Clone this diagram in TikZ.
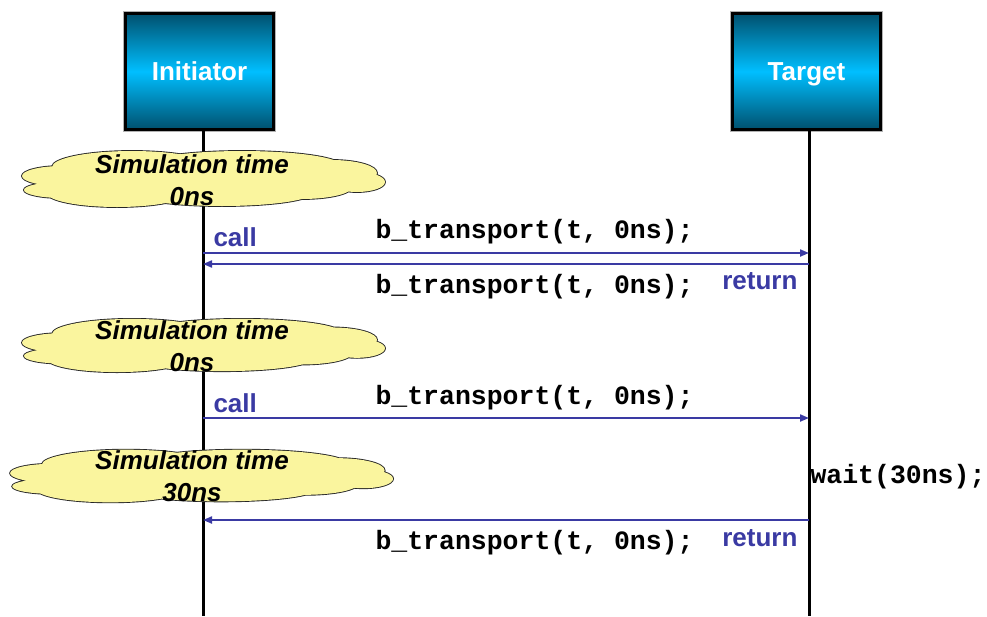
\documentclass[tikz,border=0pt]{standalone}
\usepackage{fontspec}
\setmainfont{Liberation Sans}
\setmonofont{Liberation Mono}
\usetikzlibrary{arrows.meta, positioning, calc}
\definecolor{ink}{HTML}{000000}
\definecolor{msg}{HTML}{3A3AA3}
\definecolor{boxdk}{HTML}{00506E}
\definecolor{boxlt}{HTML}{00BFFF}
\definecolor{cloudfill}{HTML}{FAF59E}
% lobes of the simulation-time cloud, around its centre
\newcommand{\cloudlobes}{
  (-140,-3) ellipse [x radius=40, y radius=10]
  (-140,11) ellipse [x radius=38, y radius=8]
  (-70,-12) ellipse [x radius=80, y radius=16]
  (40,-13) ellipse [x radius=100, y radius=15]
  (130,-6) ellipse [x radius=45, y radius=13]
  (155,3) ellipse [x radius=28, y radius=10]
  (100,8) ellipse [x radius=50, y radius=12]
  (20,14) ellipse [x radius=90, y radius=13]
  (-85,14) ellipse [x radius=70, y radius=14]
  (0,0) ellipse [x radius=150, y radius=18]}
\tikzset{
  actor/.style={rectangle, draw=ink, line width=3pt, top color=boxdk, bottom color=boxdk,
                middle color=boxlt, minimum width=148pt, minimum height=116pt,
                preaction={draw=gray!60, line width=5pt}, text height=20pt, text depth=2pt,
                font=\fontsize{26}{30}\selectfont\bfseries, text=white},
  life/.style={draw=ink, line width=3pt},
  cloudedge/.style={draw=ink!85, line width=1.8pt, fill=cloudfill},
  cloudbody/.style={fill=cloudfill},
  simtext/.style={align=center, font=\fontsize{26}{32}\selectfont\bfseries\itshape, text=ink},
  msgline/.style={draw=msg, line width=2pt, -{Triangle[length=9pt, width=7pt]}},
  tag/.style={font=\fontsize{26}{30}\selectfont\bfseries, text=msg},
  code/.style={font=\fontsize{26.5}{30}\selectfont\ttfamily\bfseries, text=ink},
}
\begin{document}
\begin{tikzpicture}[x=1pt, y=-1pt]
    \useasboundingbox (0,0) rectangle (987,616);
    % lifelines
    \node[actor] (init) at (199.5,71.5) {Initiator};
    \node[actor] (targ) at (806.5,71.5) {Target};
    \coordinate (initend) at (203,616);
    \coordinate (targend) at (809,616);
    \draw[life] (init.south -| initend) -- (initend);
    \draw[life] (targ.south -| targend) -- (targend);
    % simulation time clouds
    \coordinate (c1) at (202,179);
    \coordinate (c2) at (202,345.5);
    \coordinate (c3) at (200,476);
    \foreach \c/\xs/\ys in {c1/1/1, c2/1/0.95, c3/1.055/0.94} {
      \begin{scope}[shift={(\c)}, xscale=\xs, yscale=\ys]
        \path[cloudedge] \cloudlobes;
        \path[cloudbody] \cloudlobes;
      \end{scope}
    }
    \node[simtext] (c1t) at (192,180) {Simulation time\\0ns};
    \node[simtext] (c2t) at (192,346) {Simulation time\\0ns};
    \node[simtext] (c3t) at (192,476) {Simulation time\\30ns};
    % first call / return
    \coordinate (i1) at (203,253); \coordinate (t1) at (809,253);
    \coordinate (i2) at (203,264); \coordinate (t2) at (809,264);
    \draw[msgline] (i1) -- (t1);
    \draw[msgline] (t2) -- (i2);
    \node[tag, anchor=base west] (call1) at (210,246) {call};
    \node[code, anchor=base west] (bt1) at (372,238) {b\_transport(t, 0ns);};
    \node[code, anchor=base west] (bt2) at (372,293) {b\_transport(t, 0ns);};
    \node[tag, anchor=base east] (ret1) at (801,289) {return};
    % second call, wait, return
    \coordinate (i3) at (203,418); \coordinate (t3) at (809,418);
    \coordinate (i4) at (203,520); \coordinate (t4) at (809,520);
    \draw[msgline] (i3) -- (t3);
    \draw[msgline] (t4) -- (i4);
    \node[tag, anchor=base west] (call2) at (210,412) {call};
    \node[code, anchor=base west] (bt3) at (372,404) {b\_transport(t, 0ns);};
    \node[code, anchor=base west] (wt) at (807,483) {wait(30ns);};
    \node[code, anchor=base west] (bt4) at (372,549) {b\_transport(t, 0ns);};
    \node[tag, anchor=base east] (ret2) at (801,546) {return};
  \end{tikzpicture}
\end{document}
